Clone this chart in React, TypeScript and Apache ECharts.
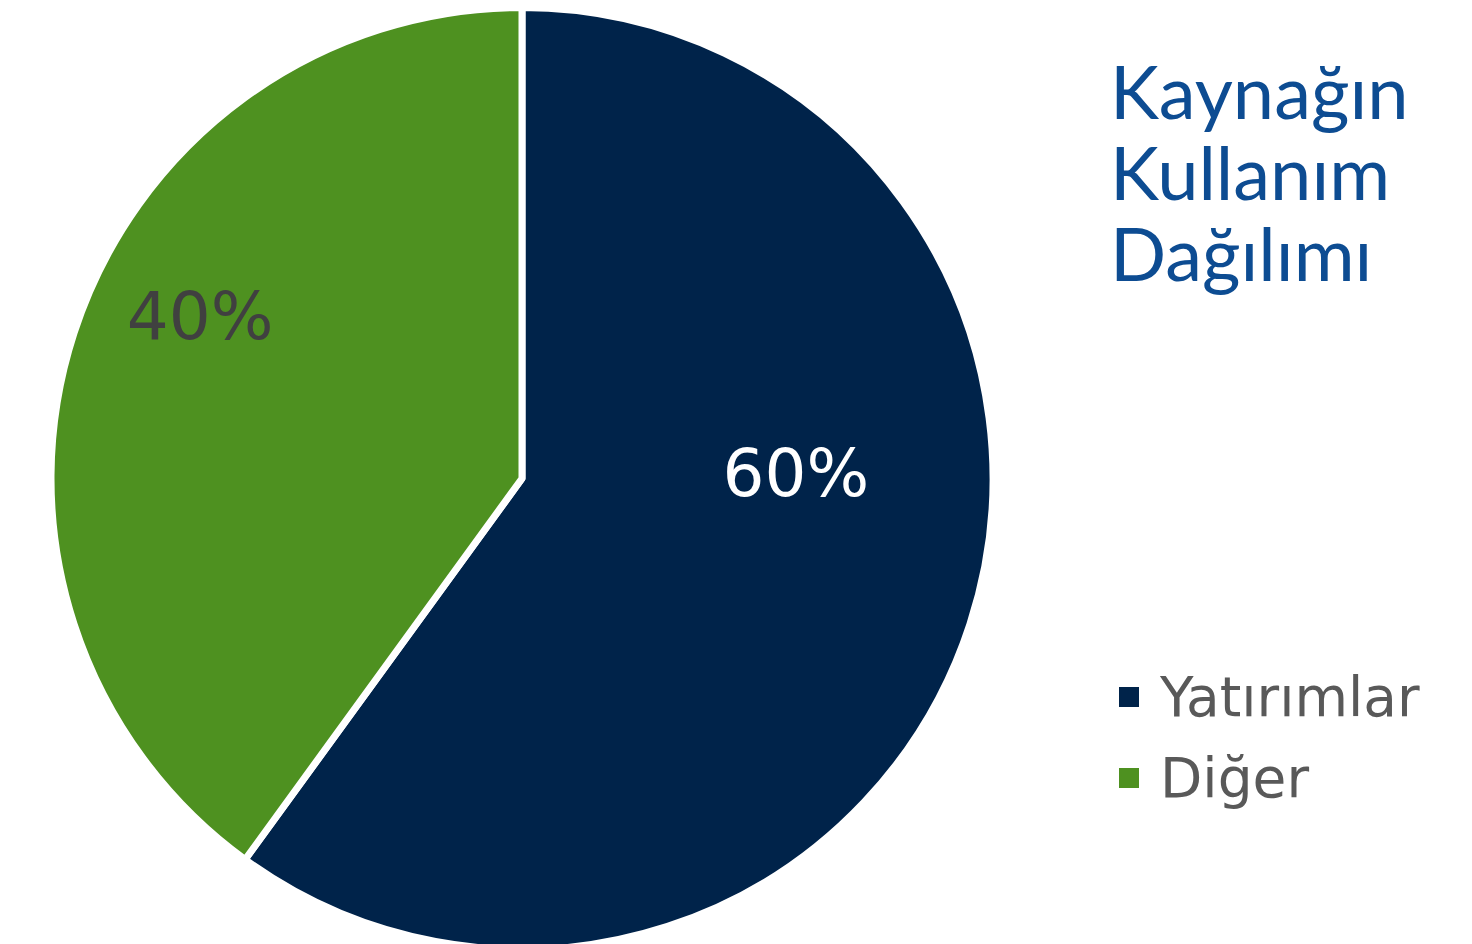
import React, { useEffect, useRef } from "react";
import * as echarts from "echarts";

const categories = ["Yatırımlar", "Diğer"];
const values = [60, 40];
const sliceColors = ["#00234A", "#4E9120"];
const labelColors = ["#FFFFFF", "#404040"];
const titleText = "Kaynağın\nKullanım\nDağılımı";
// label offsets (relative to default inside position)
const labelShift = [
  [47, -79],
  [-95, -88],
];

export default function App() {
  const ref = useRef<HTMLDivElement>(null);
  useEffect(() => {
    if (!ref.current) return;
    const chart = echarts.init(ref.current, null, { renderer: "svg" });
    chart.setOption({
      animation: false,
      backgroundColor: "#FFFFFF",
      title: {
        text: titleText,
        left: 1110,
        top: 50,
        padding: 0,
        textStyle: {
          fontFamily: "Lato",
          fontWeight: "normal",
          fontSize: 74,
          lineHeight: 81,
          color: "#0D4C92",
        },
      },
      legend: {
        orient: "vertical",
        left: 1117,
        top: 667,
        padding: 0,
        icon: "rect",
        itemWidth: 22,
        itemHeight: 22,
        itemGap: 21,
        data: categories,
        textStyle: {
          fontFamily: "DejaVu Sans",
          fontSize: 55,
          lineHeight: 60,
          color: "#595959",
          padding: [0, 0, 0, 15],
        },
      },
      series: [
        {
          type: "pie",
          center: [522, 478.5],
          radius: 471,
          startAngle: 90,
          clockwise: true,
          color: sliceColors,
          itemStyle: { borderColor: "#FFFFFF", borderWidth: 7 },
          label: {
            show: true,
            position: "inside",
            formatter: "{c}%",
            fontFamily: "DejaVu Sans",
            fontSize: 66,
          },
          labelLine: { show: false },
          labelLayout: (p: any) => ({
            dx: labelShift[p.dataIndex][0],
            dy: labelShift[p.dataIndex][1],
          }),
          emphasis: { disabled: true },
          data: categories.map((name, i) => ({
            name,
            value: values[i],
            label: { color: labelColors[i] },
          })),
        },
      ],
    });
    return () => chart.dispose();
  }, []);
  return (
    <div
      ref={ref}
      style={{ position: "absolute", left: 0, top: 0, width: 1472, height: 944 }}
    />
  );
}
